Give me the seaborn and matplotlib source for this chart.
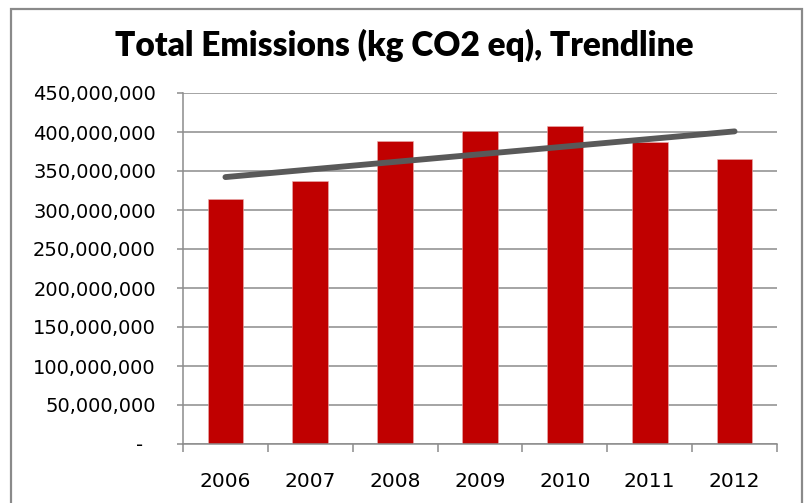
import numpy as np
import pandas as pd
import seaborn as sns
import matplotlib
matplotlib.use("Agg")
import matplotlib.pyplot as plt
from matplotlib.patches import Rectangle
from matplotlib.transforms import ScaledTranslation
from matplotlib.ticker import FixedLocator, FuncFormatter

# Annual totals, kg CO2 equivalent
years = ["2006", "2007", "2008", "2009", "2010", "2011", "2012"]
emissions = [313_500_000, 337_000_000, 389_000_000, 401_000_000,
             408_000_000, 387_000_000, 365_000_000]
y_ticks = [0, 50_000_000, 100_000_000, 150_000_000, 200_000_000,
           250_000_000, 300_000_000, 350_000_000, 400_000_000, 450_000_000]
title = "Total Emissions (kg CO2 eq), Trendline"

sns.set_theme(style="white")
plt.rcParams["font.family"] = ["DejaVu Sans"]

df = pd.DataFrame({"year": years, "emissions": emissions,
                   "pos": np.arange(len(years))})

fig = plt.figure(figsize=(8.07, 5.03), dpi=100)
ax = fig.add_axes([183 / 807, 1 - 444 / 503, 594 / 807, 351 / 503])

grid_c = "#8c8c8c"
ax.set_axisbelow(True)
ax.yaxis.grid(True, color=grid_c, linewidth=1.1)
ax.xaxis.grid(False)

sns.barplot(data=df, x="year", y="emissions", color="#C00000",
            saturation=1, width=0.42, edgecolor="#e9b0b0", linewidth=0.4,
            ax=ax, zorder=2)

# Linear least-squares trend across the years
sns.regplot(data=df, x="pos", y="emissions", scatter=False, ci=None,
            truncate=True, ax=ax,
            line_kws={"color": "#595959", "linewidth": 4.2,
                      "solid_capstyle": "round", "zorder": 3})

ax.set_xlim(-0.5, len(years) - 0.5)
ax.set_ylim(0, 450_000_000)
ax.set_xlabel("")
ax.set_ylabel("")

ax.yaxis.set_major_locator(FixedLocator(y_ticks))
ax.yaxis.set_major_formatter(
    FuncFormatter(lambda v, p: "-" if v == 0 else f"{v:,.0f}"))

ax.set_xticks(np.arange(len(years)))
ax.set_xticklabels(years)
ax.set_xticks(np.arange(len(years) + 1) - 0.5, minor=True)

for s in ["top", "right"]:
    ax.spines[s].set_visible(False)
for s in ["left", "bottom"]:
    ax.spines[s].set_color(grid_c)
    ax.spines[s].set_linewidth(1.1)

ax.tick_params(axis="y", which="major", left=True, length=4.5, width=1.1,
               color=grid_c, pad=15, labelsize=14, labelcolor="#000000")
ax.tick_params(axis="x", which="major", bottom=False, length=0, pad=20,
               labelsize=14.5, labelcolor="#000000")
ax.tick_params(axis="x", which="minor", bottom=True, length=6, width=1.1,
               color=grid_c, direction="out")

# zero label sits a little left of the others
for lbl in ax.get_yticklabels():
    if lbl.get_text() == "-":
        lbl.set_transform(lbl.get_transform() +
                          ScaledTranslation(-0.13, 0, fig.dpi_scale_trans))

fig.text(404 / 807, 1 - 45 / 503, title, ha="center", va="center",
         fontsize=24, fontweight="heavy", family=["Lato", "DejaVu Sans"],
         color="#000000")

# chart frame
fig.patches.append(Rectangle((11 / 807, -0.05), 791 / 807, 1 - 9 / 503 + 0.05,
                             transform=fig.transFigure, fill=False,
                             edgecolor="#8a8a8a", linewidth=1.6))

fig.savefig("out.png", dpi=100)
